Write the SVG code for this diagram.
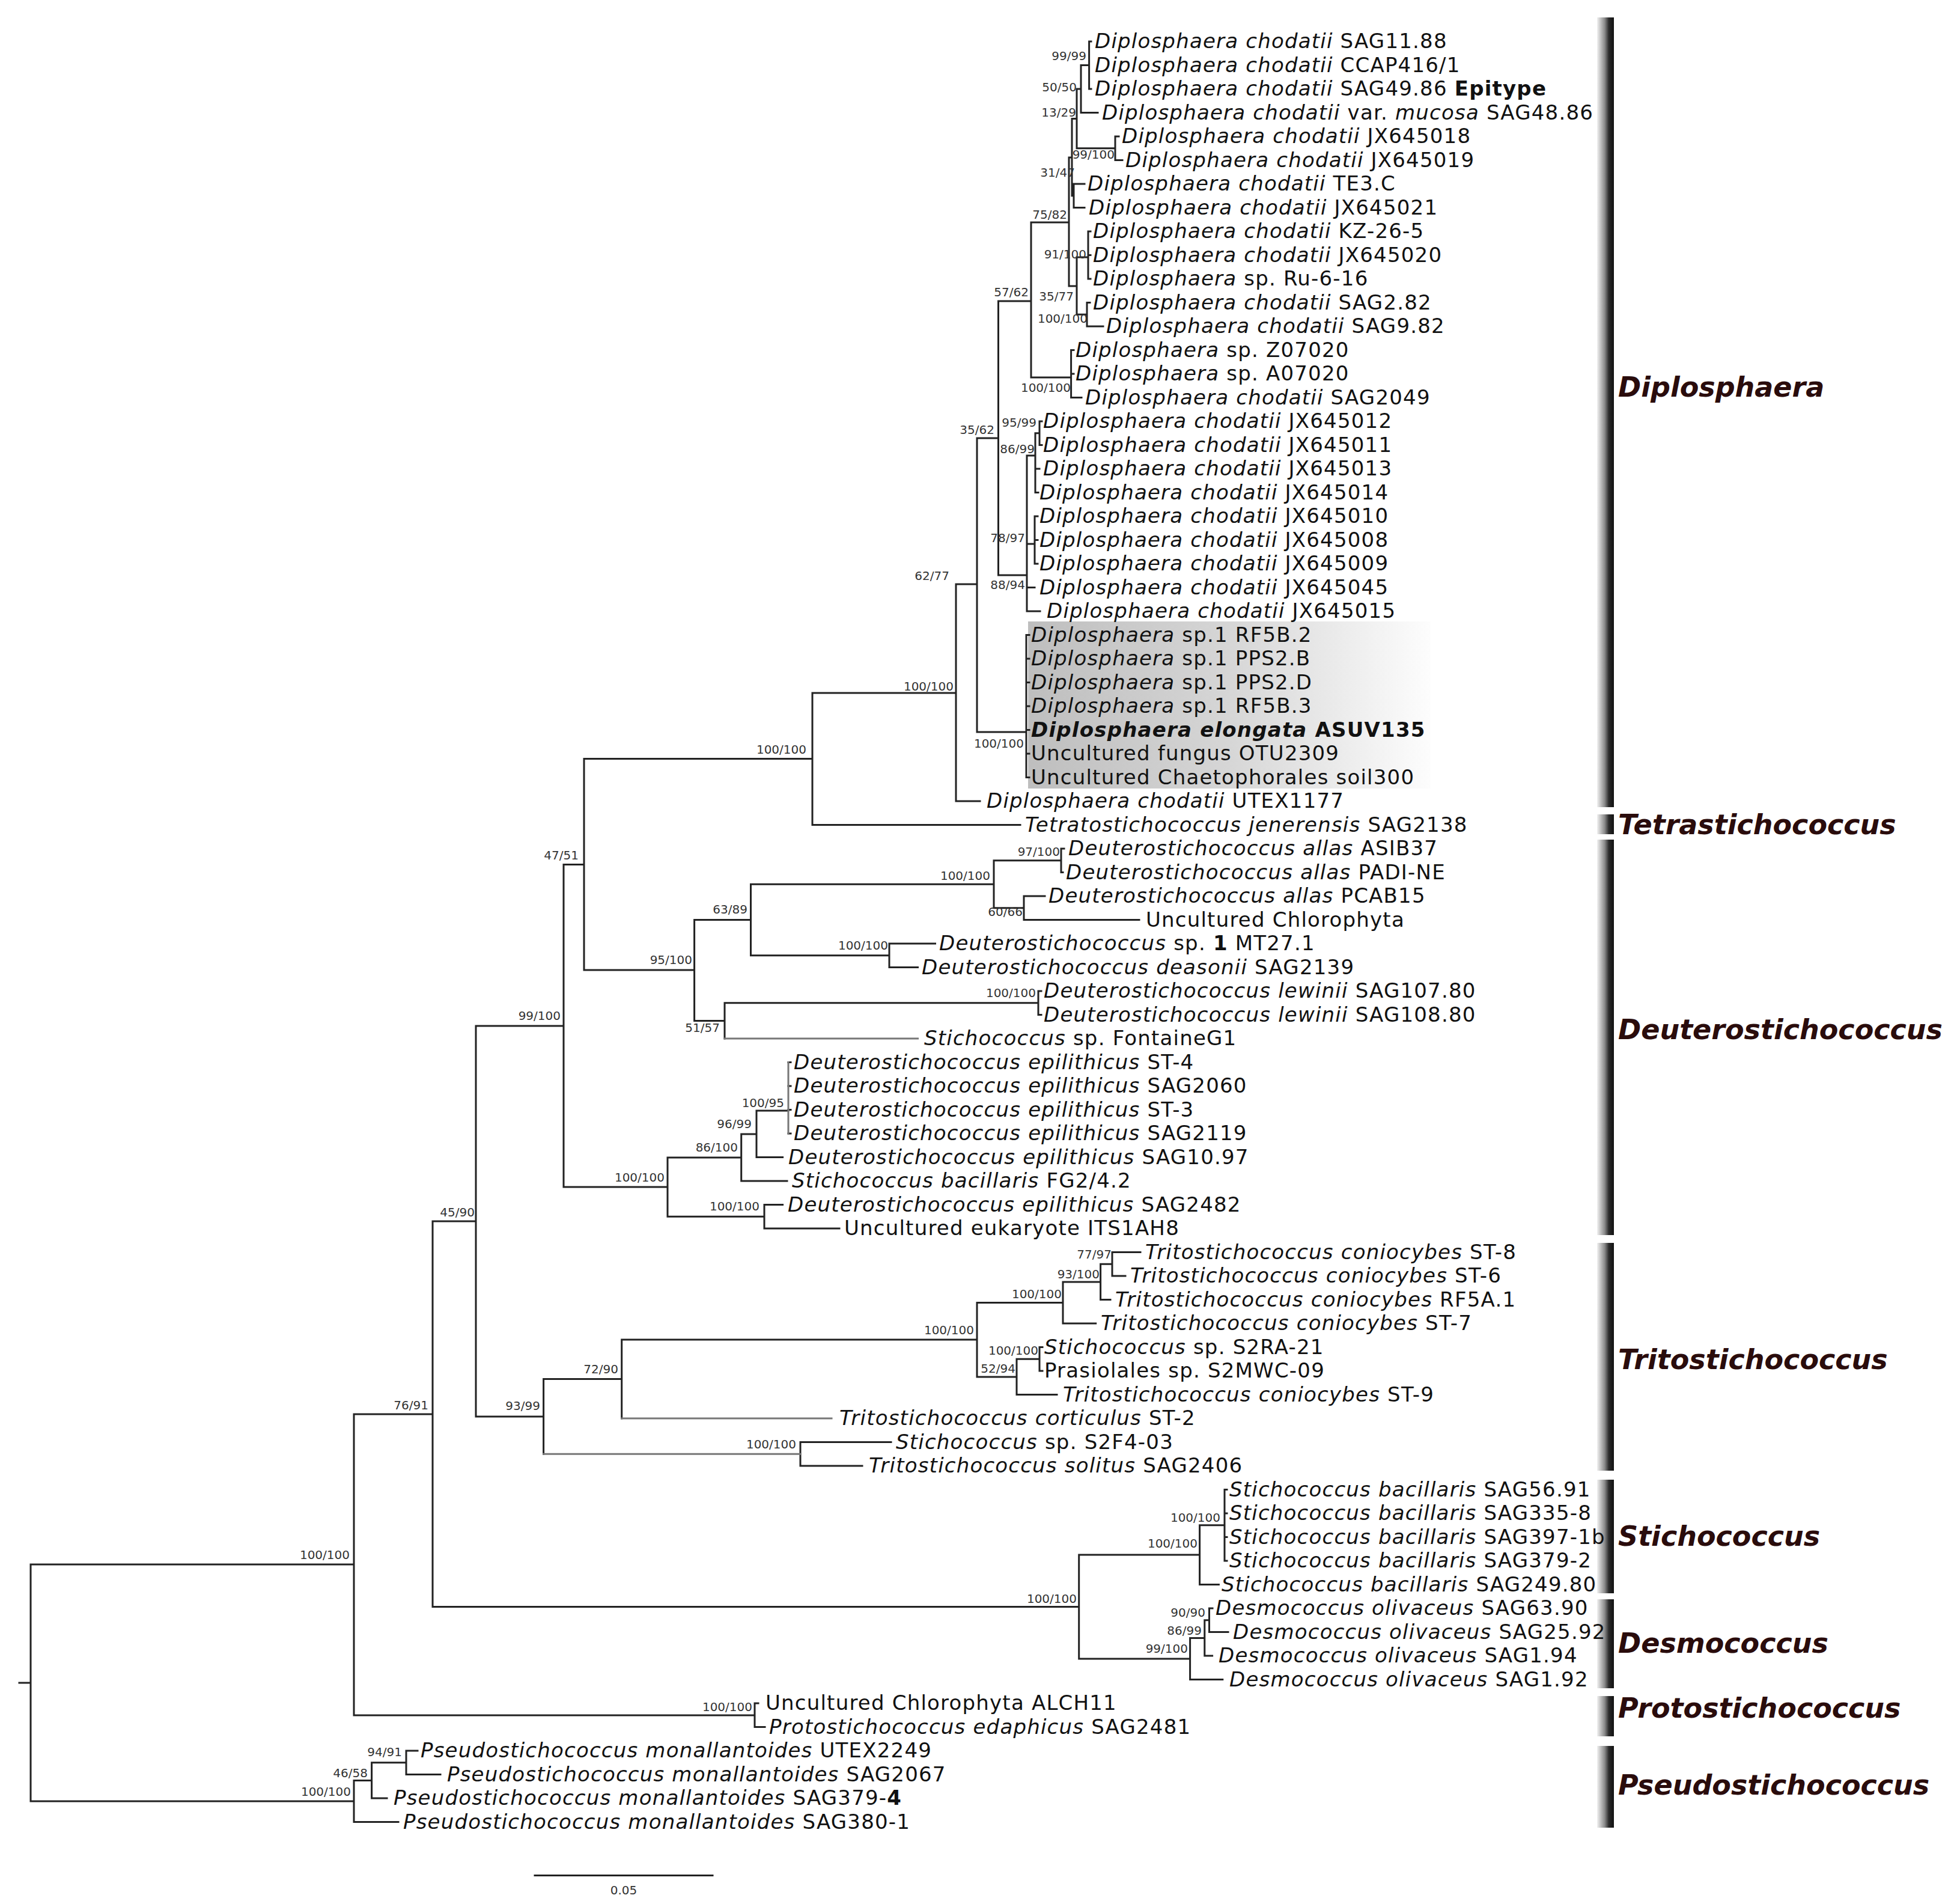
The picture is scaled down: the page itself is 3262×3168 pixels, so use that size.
<svg xmlns="http://www.w3.org/2000/svg" width="3262" height="3168" viewBox="0 0 3262 3168">
<style>
.t{font-family:"DejaVu Sans",sans-serif;font-size:34px;letter-spacing:1.2px;fill:#111}
.i{font-style:italic}
.b{font-weight:bold}
.s{font-family:"DejaVu Sans",sans-serif;font-size:20px;fill:#333;text-anchor:end}
.c{font-family:"DejaVu Sans",sans-serif;font-size:46px;font-weight:bold;font-style:italic;fill:#2a0c0c}
.br{fill:none;stroke:#222;stroke-width:3;stroke-linecap:square}
.gr{fill:none;stroke:#777;stroke-width:3;stroke-linecap:square}
</style>
<defs>
<linearGradient id="bar" x1="0" y1="0" x2="1" y2="0">
<stop offset="0" stop-color="#f2f2f2"/><stop offset="0.45" stop-color="#8a8a8a"/><stop offset="0.7" stop-color="#2a2a2a"/><stop offset="1" stop-color="#111"/>
</linearGradient>
<linearGradient id="hl" x1="0" y1="0" x2="1" y2="0">
<stop offset="0" stop-color="#bebebe"/><stop offset="0.5" stop-color="#d6d6d6"/><stop offset="1" stop-color="#fdfdfd"/>
</linearGradient>
</defs>
<rect width="3262" height="3168" fill="#fff"/>
<rect id="highlight" x="1711" y="1034" width="670" height="278" fill="url(#hl)"/>

<g id="clades">
<g id="clade-diplosphaera"><rect x="2658" y="29" width="28" height="1314" fill="url(#bar)"/><text class="c" x="2693" y="660">Diplosphaera</text></g>
<g id="clade-tetrastichococcus"><rect x="2658" y="1355" width="28" height="33" fill="url(#bar)"/><text class="c" x="2693" y="1388">Tetrastichococcus</text></g>
<g id="clade-deuterostichococcus"><rect x="2658" y="1397" width="28" height="658" fill="url(#bar)"/><text class="c" x="2693" y="1729">Deuterostichococcus</text></g>
<g id="clade-tritostichococcus"><rect x="2658" y="2068" width="28" height="379" fill="url(#bar)"/><text class="c" x="2693" y="2278">Tritostichococcus</text></g>
<g id="clade-stichococcus"><rect x="2658" y="2462" width="28" height="189" fill="url(#bar)"/><text class="c" x="2693" y="2572">Stichococcus</text></g>
<g id="clade-desmococcus"><rect x="2658" y="2661" width="28" height="148" fill="url(#bar)"/><text class="c" x="2693" y="2750">Desmococcus</text></g>
<g id="clade-protostichococcus"><rect x="2658" y="2822" width="28" height="67" fill="url(#bar)"/><text class="c" x="2693" y="2858">Protostichococcus</text></g>
<g id="clade-pseudostichococcus"><rect x="2658" y="2905" width="28" height="136" fill="url(#bar)"/><text class="c" x="2693" y="2986">Pseudostichococcus</text></g>
</g>

<g id="connectors">
<path class="br" d="M32 2800H51M51 2603V2997M51 2603H589M51 2997H589
M589 2353V2854M589 2353H720M589 2854H1256
M720 2032V2673.5M720 2032H792M720 2673.5H1795.7
M792 1707V2357M792 1707H938M792 2357H904.6
M938 1438.5V1975M938 1438.5H972M938 1975H1111
M972 1262.5V1614M972 1262.5H1352M972 1614H1155.6
M1352 1153V1372.5M1352 1153H1591M1352 1372.5H1698
M1591 972V1333M1591 972H1626M1591 1333H1631
M1626 729V1218M1626 729H1661.5M1626 1218H1708
M1708 1056.5V1293.5M1708 1056.5H1713M1708 1096H1713M1708 1135.5H1713M1708 1175H1713M1708 1214.5H1713M1708 1254H1713M1708 1293.5H1713
M1661.5 501V957M1661.5 501H1716M1661.5 957H1709
M1709 758V1017M1709 758H1723M1709 905H1722M1709 977.5H1722M1709 1017H1731
M1723 720.75V819.5M1723 720.75H1730M1723 780H1730M1723 819.5H1728
M1730 701V740.5M1730 701H1734M1730 740.5H1734
M1722 859V938M1722 859H1727M1722 898.5H1727M1722 938H1727
M1716 370V628M1716 370H1779M1716 628H1782.6
M1782.6 582.5V661.5M1782.6 582.5H1787M1782.6 622H1787M1782.6 661.5H1800
M1779 262V476M1779 262H1784M1779 476H1792
M1784 197.4V325.75M1784 197.4H1792M1784 325.75H1787
M1787 306V345.5M1787 306H1805M1787 345.5H1805
M1792 148V246.75M1792 148H1799M1792 246.75H1856
M1856 227V266.5M1856 227H1862M1856 266.5H1868
M1799 108.5V187.5M1799 108.5H1812.6M1799 187.5H1827
M1812.6 69V148M1812.6 69H1816M1812.6 148H1816
M1792 428V523.25M1792 428H1811M1792 523.25H1809
M1811 385V464M1811 385H1815M1811 424.5H1815M1811 464H1815
M1809 503.5V543M1809 503.5H1814M1809 543H1836
M1155.6 1530.5V1698.4M1155.6 1530.5H1249.5M1155.6 1698.4H1206
M1249.5 1471.25V1589.75M1249.5 1471.25H1654M1249.5 1589.75H1480
M1654 1431.75V1510.75M1654 1431.75H1766M1654 1510.75H1704
M1766 1412V1451.5M1766 1412H1771M1766 1451.5H1769
M1704 1491V1530.5M1704 1491H1739M1704 1530.5H1896
M1480 1570V1609.5M1480 1570H1556.5M1480 1609.5H1527.5
M1206 1668.75V1728M1206 1668.75H1728
M1728 1649V1688.5M1728 1649H1733M1728 1688.5H1733
M1111 1926V2024.25M1111 1926H1233.7M1111 2024.25H1272
M1233.7 1887V1965M1233.7 1887H1259M1233.7 1965H1310
M1259 1848V1925.5M1259 1848H1312M1259 1925.5H1302.6
M1312 1767.5H1316M1312 1807H1316M1312 1846.5H1316M1312 1886H1316
M1272 2004.5V2044M1272 2004.5H1302.6M1272 2044H1397
M904.6 2294.6V2419.25M904.6 2294.6H1034.7
M1034.7 2229V2360M1034.7 2229H1626
M1626 2167.4V2290.9M1626 2167.4H1769M1626 2290.9H1692
M1769 2132.9V2202M1769 2132.9H1831.6M1769 2202H1823.7
M1831.6 2103.25V2162.5M1831.6 2103.25H1851M1831.6 2162.5H1848
M1851 2083.5V2123M1851 2083.5H1898M1851 2123H1873
M1692 2261.25V2320.5M1692 2261.25H1730M1692 2320.5H1759
M1730 2241.5V2281M1730 2241.5H1735M1730 2281H1735
M1332 2399.5V2439M1332 2399.5H1483M1332 2439H1435
M1795.7 2587V2760M1795.7 2587H1996.6M1795.7 2760H1980.6
M1996.6 2537.75V2636.5M1996.6 2537.75H2038M1996.6 2636.5H2028.4
M2038 2478.5V2597M2038 2478.5H2042M2038 2518H2042M2038 2557.5H2042M2038 2597H2042
M1980.6 2725.4V2794.5M1980.6 2725.4H2004.8M1980.6 2794.5H2034.8
M2004.8 2695.75V2755M2004.8 2695.75H2012.5M2004.8 2755H2017.6
M2012.5 2676V2715.5M2012.5 2676H2018M2012.5 2715.5H2044
M1256 2834V2873.5M1256 2834H1262M1256 2873.5H1273
M589 2962.4V3031.5M589 2962.4H618.6M589 3031.5H663
M618.6 2932.75V2992M618.6 2932.75H676M618.6 2992H644
M676 2913V2952.5M676 2913H695M676 2952.5H733"/>
<path class="gr" d="M1206 1728H1527.5M1312 1767.5V1886M904.6 2419.25H1332M1034.7 2360H1384"/>
<path id="scalebar" class="br" d="M890 3120.6H1186"/>
</g>

<g id="support">
<text class="s" x="1808" y="100">99/99</text>
<text class="s" x="1792" y="152">50/50</text>
<text class="s" x="1791" y="194">13/29</text>
<text class="s" x="1855" y="264">99/100</text>
<text class="s" x="1789" y="294">31/47</text>
<text class="s" x="1776" y="364">75/82</text>
<text class="s" x="1808" y="430">91/100</text>
<text class="s" x="1712" y="493">57/62</text>
<text class="s" x="1787" y="500">35/77</text>
<text class="s" x="1810" y="537">100/100</text>
<text class="s" x="1782" y="652">100/100</text>
<text class="s" x="1655" y="722">35/62</text>
<text class="s" x="1725" y="710">95/99</text>
<text class="s" x="1722" y="754">86/99</text>
<text class="s" x="1706" y="902">78/97</text>
<text class="s" x="1706" y="980">88/94</text>
<text class="s" x="1580" y="965">62/77</text>
<text class="s" x="1587" y="1149">100/100</text>
<text class="s" x="1704" y="1244">100/100</text>
<text class="s" x="1342" y="1254">100/100</text>
<text class="s" x="963" y="1430">47/51</text>
<text class="s" x="1764" y="1424">97/100</text>
<text class="s" x="1648" y="1464">100/100</text>
<text class="s" x="1244" y="1520">63/89</text>
<text class="s" x="1702" y="1524">60/66</text>
<text class="s" x="1478" y="1580">100/100</text>
<text class="s" x="1152" y="1604">95/100</text>
<text class="s" x="1724" y="1659">100/100</text>
<text class="s" x="933" y="1697">99/100</text>
<text class="s" x="1198" y="1717">51/57</text>
<text class="s" x="1305" y="1842">100/95</text>
<text class="s" x="1251" y="1877">96/99</text>
<text class="s" x="1228" y="1916">86/100</text>
<text class="s" x="1106" y="1966">100/100</text>
<text class="s" x="1264" y="2014">100/100</text>
<text class="s" x="790" y="2024">45/90</text>
<text class="s" x="1850" y="2094">77/97</text>
<text class="s" x="1830" y="2127">93/100</text>
<text class="s" x="1767" y="2160">100/100</text>
<text class="s" x="1621" y="2220">100/100</text>
<text class="s" x="1728" y="2254">100/100</text>
<text class="s" x="1690" y="2284">52/94</text>
<text class="s" x="1029" y="2285">72/90</text>
<text class="s" x="899" y="2346">93/99</text>
<text class="s" x="713" y="2345">76/91</text>
<text class="s" x="1325" y="2410">100/100</text>
<text class="s" x="2031" y="2532">100/100</text>
<text class="s" x="1993" y="2575">100/100</text>
<text class="s" x="582" y="2594">100/100</text>
<text class="s" x="1792" y="2667">100/100</text>
<text class="s" x="2006" y="2690">90/90</text>
<text class="s" x="2000" y="2720">86/99</text>
<text class="s" x="1977" y="2750">99/100</text>
<text class="s" x="1252" y="2847">100/100</text>
<text class="s" x="669" y="2922">94/91</text>
<text class="s" x="612" y="2957">46/58</text>
<text class="s" x="584" y="2988">100/100</text>
<text class="s" x="1038" y="3152" style="text-anchor:middle">0.05</text>
</g>

<g id="tips">
<g id="tip00"><text class="t" x="1822" y="80"><tspan class="i">Diplosphaera chodatii</tspan> SAG11.88</text></g>
<g id="tip01"><text class="t" x="1822" y="119.5"><tspan class="i">Diplosphaera chodatii</tspan> CCAP416/1</text></g>
<g id="tip02"><text class="t" x="1822" y="159"><tspan class="i">Diplosphaera chodatii</tspan> SAG49.86 <tspan class="b">Epitype</tspan></text></g>
<g id="tip03"><text class="t" x="1834" y="198.5"><tspan class="i">Diplosphaera chodatii</tspan> var. <tspan class="i">mucosa</tspan> SAG48.86</text></g>
<g id="tip04"><text class="t" x="1867" y="238"><tspan class="i">Diplosphaera chodatii</tspan> JX645018</text></g>
<g id="tip05"><text class="t" x="1873" y="277.5"><tspan class="i">Diplosphaera chodatii</tspan> JX645019</text></g>
<g id="tip06"><text class="t" x="1810" y="317"><tspan class="i">Diplosphaera chodatii</tspan> TE3.C</text></g>
<g id="tip07"><text class="t" x="1812" y="356.5"><tspan class="i">Diplosphaera chodatii</tspan> JX645021</text></g>
<g id="tip08"><text class="t" x="1819" y="396"><tspan class="i">Diplosphaera chodatii</tspan> KZ-26-5</text></g>
<g id="tip09"><text class="t" x="1819" y="435.5"><tspan class="i">Diplosphaera chodatii</tspan> JX645020</text></g>
<g id="tip10"><text class="t" x="1819" y="475"><tspan class="i">Diplosphaera</tspan> sp. Ru-6-16</text></g>
<g id="tip11"><text class="t" x="1819" y="514.5"><tspan class="i">Diplosphaera chodatii</tspan> SAG2.82</text></g>
<g id="tip12"><text class="t" x="1841" y="554"><tspan class="i">Diplosphaera chodatii</tspan> SAG9.82</text></g>
<g id="tip13"><text class="t" x="1790" y="593.5"><tspan class="i">Diplosphaera</tspan> sp. Z07020</text></g>
<g id="tip14"><text class="t" x="1790" y="633"><tspan class="i">Diplosphaera</tspan> sp. A07020</text></g>
<g id="tip15"><text class="t" x="1806" y="672.5"><tspan class="i">Diplosphaera chodatii</tspan> SAG2049</text></g>
<g id="tip16"><text class="t" x="1736" y="712"><tspan class="i">Diplosphaera chodatii</tspan> JX645012</text></g>
<g id="tip17"><text class="t" x="1736" y="751.5"><tspan class="i">Diplosphaera chodatii</tspan> JX645011</text></g>
<g id="tip18"><text class="t" x="1736" y="791"><tspan class="i">Diplosphaera chodatii</tspan> JX645013</text></g>
<g id="tip19"><text class="t" x="1730" y="830.5"><tspan class="i">Diplosphaera chodatii</tspan> JX645014</text></g>
<g id="tip20"><text class="t" x="1730" y="870"><tspan class="i">Diplosphaera chodatii</tspan> JX645010</text></g>
<g id="tip21"><text class="t" x="1730" y="909.5"><tspan class="i">Diplosphaera chodatii</tspan> JX645008</text></g>
<g id="tip22"><text class="t" x="1730" y="949"><tspan class="i">Diplosphaera chodatii</tspan> JX645009</text></g>
<g id="tip23"><text class="t" x="1730" y="988.5"><tspan class="i">Diplosphaera chodatii</tspan> JX645045</text></g>
<g id="tip24"><text class="t" x="1742" y="1028"><tspan class="i">Diplosphaera chodatii</tspan> JX645015</text></g>
<g id="tip25"><text class="t" x="1716" y="1067.5"><tspan class="i">Diplosphaera</tspan> sp.1 RF5B.2</text></g>
<g id="tip26"><text class="t" x="1716" y="1107"><tspan class="i">Diplosphaera</tspan> sp.1 PPS2.B</text></g>
<g id="tip27"><text class="t" x="1716" y="1146.5"><tspan class="i">Diplosphaera</tspan> sp.1 PPS2.D</text></g>
<g id="tip28"><text class="t" x="1716" y="1186"><tspan class="i">Diplosphaera</tspan> sp.1 RF5B.3</text></g>
<g id="tip29"><text class="t b" x="1716" y="1225.5"><tspan class="i">Diplosphaera elongata</tspan> ASUV135</text></g>
<g id="tip30"><text class="t" x="1716" y="1265">Uncultured fungus OTU2309</text></g>
<g id="tip31"><text class="t" x="1716" y="1304.5">Uncultured Chaetophorales soil300</text></g>
<g id="tip32"><text class="t" x="1642" y="1344"><tspan class="i">Diplosphaera chodatii</tspan> UTEX1177</text></g>
<g id="tip33"><text class="t" x="1706" y="1383.5"><tspan class="i">Tetratostichococcus jenerensis</tspan> SAG2138</text></g>
<g id="tip34"><text class="t" x="1778" y="1423"><tspan class="i">Deuterostichococcus allas</tspan> ASIB37</text></g>
<g id="tip35"><text class="t" x="1774" y="1462.5"><tspan class="i">Deuterostichococcus allas</tspan> PADI-NE</text></g>
<g id="tip36"><text class="t" x="1745" y="1502"><tspan class="i">Deuterostichococcus allas</tspan> PCAB15</text></g>
<g id="tip37"><text class="t" x="1907" y="1541.5">Uncultured Chlorophyta</text></g>
<g id="tip38"><text class="t" x="1563" y="1581"><tspan class="i">Deuterostichococcus</tspan> sp. <tspan class="b">1</tspan> MT27.1</text></g>
<g id="tip39"><text class="t" x="1534" y="1620.5"><tspan class="i">Deuterostichococcus deasonii</tspan> SAG2139</text></g>
<g id="tip40"><text class="t" x="1737" y="1660"><tspan class="i">Deuterostichococcus lewinii</tspan> SAG107.80</text></g>
<g id="tip41"><text class="t" x="1737" y="1699.5"><tspan class="i">Deuterostichococcus lewinii</tspan> SAG108.80</text></g>
<g id="tip42"><text class="t" x="1538" y="1739"><tspan class="i">Stichococcus</tspan> sp. FontaineG1</text></g>
<g id="tip43"><text class="t" x="1321" y="1778.5"><tspan class="i">Deuterostichococcus epilithicus</tspan> ST-4</text></g>
<g id="tip44"><text class="t" x="1321" y="1818"><tspan class="i">Deuterostichococcus epilithicus</tspan> SAG2060</text></g>
<g id="tip45"><text class="t" x="1321" y="1857.5"><tspan class="i">Deuterostichococcus epilithicus</tspan> ST-3</text></g>
<g id="tip46"><text class="t" x="1321" y="1897"><tspan class="i">Deuterostichococcus epilithicus</tspan> SAG2119</text></g>
<g id="tip47"><text class="t" x="1312" y="1936.5"><tspan class="i">Deuterostichococcus epilithicus</tspan> SAG10.97</text></g>
<g id="tip48"><text class="t" x="1318" y="1976"><tspan class="i">Stichococcus bacillaris</tspan> FG2/4.2</text></g>
<g id="tip49"><text class="t" x="1311" y="2015.5"><tspan class="i">Deuterostichococcus epilithicus</tspan> SAG2482</text></g>
<g id="tip50"><text class="t" x="1405" y="2055">Uncultured eukaryote ITS1AH8</text></g>
<g id="tip51"><text class="t" x="1906" y="2094.5"><tspan class="i">Tritostichococcus coniocybes</tspan> ST-8</text></g>
<g id="tip52"><text class="t" x="1881" y="2134"><tspan class="i">Tritostichococcus coniocybes</tspan> ST-6</text></g>
<g id="tip53"><text class="t" x="1856" y="2173.5"><tspan class="i">Tritostichococcus coniocybes</tspan> RF5A.1</text></g>
<g id="tip54"><text class="t" x="1832" y="2213"><tspan class="i">Tritostichococcus coniocybes</tspan> ST-7</text></g>
<g id="tip55"><text class="t" x="1738" y="2252.5"><tspan class="i">Stichococcus</tspan> sp. S2RA-21</text></g>
<g id="tip56"><text class="t" x="1738" y="2292">Prasiolales sp. S2MWC-09</text></g>
<g id="tip57"><text class="t" x="1769" y="2331.5"><tspan class="i">Tritostichococcus coniocybes</tspan> ST-9</text></g>
<g id="tip58"><text class="t" x="1397" y="2371"><tspan class="i">Tritostichococcus corticulus</tspan> ST-2</text></g>
<g id="tip59"><text class="t" x="1491" y="2410.5"><tspan class="i">Stichococcus</tspan> sp. S2F4-03</text></g>
<g id="tip60"><text class="t" x="1446" y="2450"><tspan class="i">Tritostichococcus solitus</tspan> SAG2406</text></g>
<g id="tip61"><text class="t" x="2046" y="2489.5"><tspan class="i">Stichococcus bacillaris</tspan> SAG56.91</text></g>
<g id="tip62"><text class="t" x="2046" y="2529"><tspan class="i">Stichococcus bacillaris</tspan> SAG335-8</text></g>
<g id="tip63"><text class="t" x="2046" y="2568.5"><tspan class="i">Stichococcus bacillaris</tspan> SAG397-1b</text></g>
<g id="tip64"><text class="t" x="2046" y="2608"><tspan class="i">Stichococcus bacillaris</tspan> SAG379-2</text></g>
<g id="tip65"><text class="t" x="2033" y="2647.5"><tspan class="i">Stichococcus bacillaris</tspan> SAG249.80</text></g>
<g id="tip66"><text class="t" x="2023" y="2687"><tspan class="i">Desmococcus olivaceus</tspan> SAG63.90</text></g>
<g id="tip67"><text class="t" x="2052" y="2726.5"><tspan class="i">Desmococcus olivaceus</tspan> SAG25.92</text></g>
<g id="tip68"><text class="t" x="2028" y="2766"><tspan class="i">Desmococcus olivaceus</tspan> SAG1.94</text></g>
<g id="tip69"><text class="t" x="2046" y="2805.5"><tspan class="i">Desmococcus olivaceus</tspan> SAG1.92</text></g>
<g id="tip70"><text class="t" x="1274" y="2845">Uncultured Chlorophyta ALCH11</text></g>
<g id="tip71"><text class="t" x="1280" y="2884.5"><tspan class="i">Protostichococcus edaphicus</tspan> SAG2481</text></g>
<g id="tip72"><text class="t" x="700" y="2924"><tspan class="i">Pseudostichococcus monallantoides</tspan> UTEX2249</text></g>
<g id="tip73"><text class="t" x="744" y="2963.5"><tspan class="i">Pseudostichococcus monallantoides</tspan> SAG2067</text></g>
<g id="tip74"><text class="t" x="655" y="3003"><tspan class="i">Pseudostichococcus monallantoides</tspan> SAG379-<tspan class="b">4</tspan></text></g>
<g id="tip75"><text class="t" x="671" y="3042.5"><tspan class="i">Pseudostichococcus monallantoides</tspan> SAG380-1</text></g>
</g>
</svg>
